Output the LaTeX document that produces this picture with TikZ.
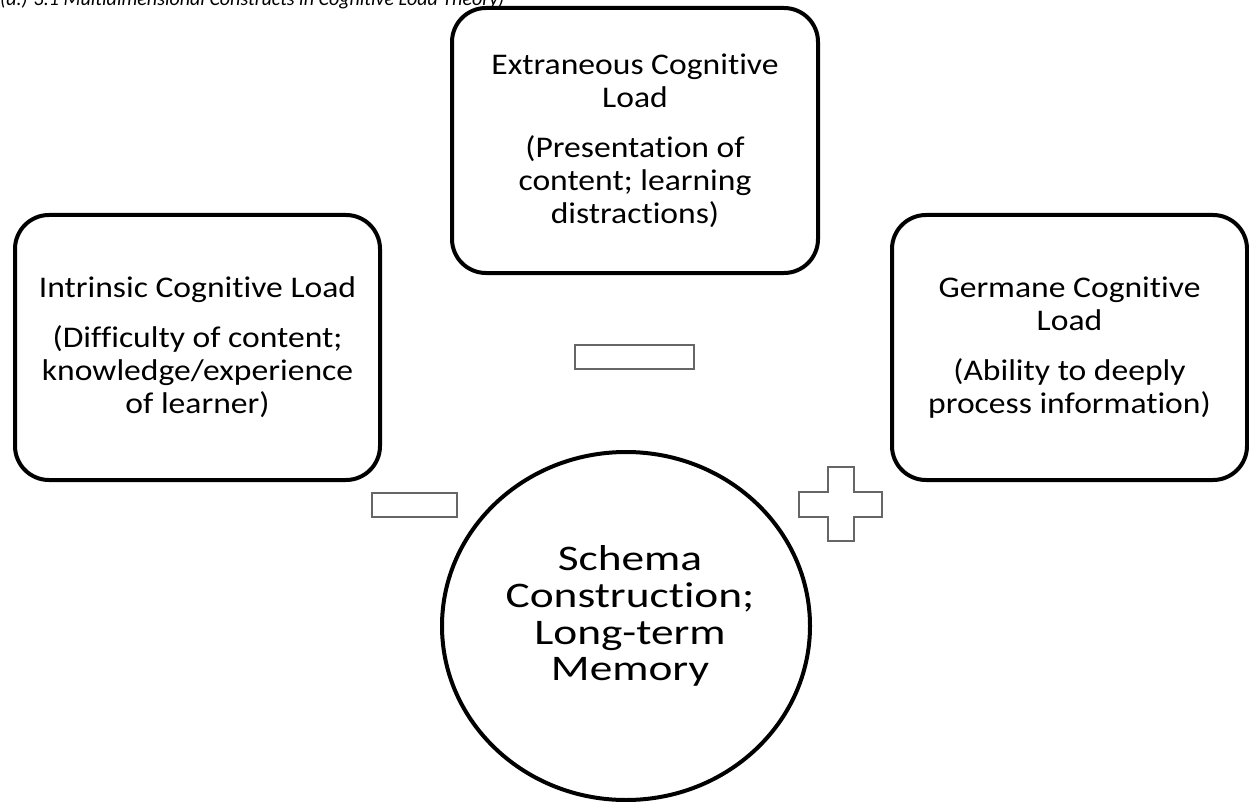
\documentclass[tikz,border=0pt]{standalone}
\usepackage{fontspec}
\setmainfont{Carlito}[Ligatures=NoCommon]
\newfontfamily\boxfont{Carlito}[FakeStretch=1.12, Ligatures=NoCommon]
\newfontfamily\circfont{Carlito}[FakeStretch=1.26, Ligatures=NoCommon]
\usetikzlibrary{shapes.geometric}
\begin{document}
\begin{tikzpicture}[x=1pt,y=-1pt,
  loadbox/.style={draw=black, line width=4pt, rounded corners=34pt, align=center,
    inner sep=0pt, font=\boxfont\fontsize{30}{33}\selectfont},
  circtext/.style={align=center, inner sep=0pt, font=\circfont\fontsize{36}{36.8}\selectfont},
  signbox/.style={draw=black!60, line width=2pt, fill=white, inner sep=0pt},
  captext/.style={anchor=base west, inner sep=0pt, font=\fontsize{20}{22}\selectfont\itshape}]
\useasboundingbox (0,0) rectangle (1249,802);
\clip (0,0) rectangle (1249,802);
\node[captext] (caption) at (0,6) {(a.) 3.1 Multidimensional Constructs in Cognitive Load Theory)};
% boxes
\node[loadbox, minimum width=366pt, minimum height=265pt] (extr) at (635,140.5)
  {Extraneous Cognitive\\Load\\[17pt](Presentation of\\content; learning\\distractions)};
\node[loadbox, minimum width=365pt, minimum height=265pt] (intr) at (197.5,347.5)
  {Intrinsic Cognitive Load\\[17pt](Difficulty of content;\\knowledge/experience\\of learner)};
\node[loadbox, minimum width=355pt, minimum height=265pt] (germ) at (1069.5,347.5)
  {Germane Cognitive\\Load\\[17pt](Ability to deeply\\process information)};
% central ellipse
\node[draw=black, line width=4pt, ellipse, minimum width=368pt, minimum height=348pt, inner sep=0pt]
  (schema) at (626,626) {};
\node[circtext] (schematext) at (630,616) {Schema\\Construction;\\Long-term\\Memory};
% signs
\node[signbox, minimum width=119pt, minimum height=24pt] (minustop) at (634.5,357) {};
\node[signbox, minimum width=85pt, minimum height=24pt] (minusleft) at (414.5,505) {};
\draw[draw=black!60, line width=2pt, fill=white]
  (828,467) -- (854,467) -- (854,492) -- (882,492) -- (882,517) -- (854,517)
  -- (854,541) -- (828,541) -- (828,517) -- (799,517) -- (799,492) -- (828,492) -- cycle;
\end{tikzpicture}
\end{document}
